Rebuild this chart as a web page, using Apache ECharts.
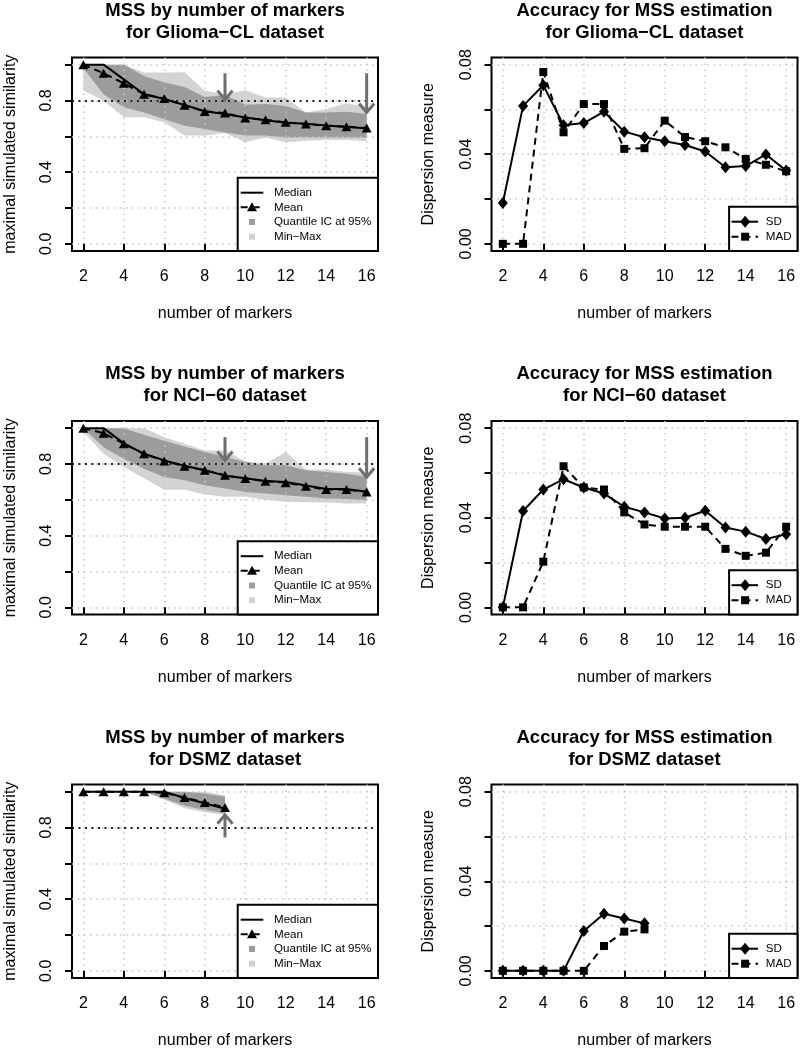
<!DOCTYPE html>
<html>
<head>
<meta charset="utf-8">
<script src="https://cdn.jsdelivr.net/npm/echarts@6/dist/echarts.min.js"></script>
<style>
html,body{margin:0;padding:0;background:#fff;}
#c{width:800px;height:1051px;}
</style>
</head>
<body>
<div id="c"></div>
<script>
// ---------------- DATA ----------------
const markers = [2, 3, 4, 5, 6, 7, 8, 9, 10, 11, 12, 13, 14, 15, 16];
const markersDSMZ = [2, 3, 4, 5, 6, 7, 8, 9];

const xTicks = [2, 4, 6, 8, 10, 12, 14, 16];
const mssTicks = [0, 0.2, 0.4, 0.6, 0.8, 1.0];
const mssTickLabels = [0, 0.4, 0.8];
const dispTicks = [0, 0.02, 0.04, 0.06, 0.08];
const dispTickLabels = [0, 0.04, 0.08];
const refLine = 0.8;

// Glioma-CL
const gliomaMedian = [1.0, 1.0, 0.918, 0.835, 0.808, 0.775, 0.740, 0.725, 0.705, 0.690, 0.676, 0.670, 0.660, 0.652, 0.645];
const gliomaMean   = [1.0, 0.952, 0.896, 0.835, 0.811, 0.774, 0.739, 0.730, 0.702, 0.693, 0.678, 0.669, 0.659, 0.654, 0.646];
const gliomaQLow   = [0.98, 0.835, 0.763, 0.733, 0.696, 0.659, 0.641, 0.622, 0.604, 0.604, 0.594, 0.594, 0.594, 0.594, 0.594];
const gliomaQHigh  = [1.0, 1.0, 1.0, 0.937, 0.900, 0.876, 0.820, 0.831, 0.776, 0.780, 0.770, 0.733, 0.733, 0.737, 0.724];
const gliomaMin    = [0.854, 0.800, 0.707, 0.706, 0.678, 0.604, 0.604, 0.618, 0.567, 0.594, 0.567, 0.576, 0.580, 0.580, 0.572];
const gliomaMax    = [1.0, 1.0, 1.0, 0.956, 0.956, 0.958, 0.854, 0.835, 0.857, 0.817, 0.817, 0.733, 0.752, 0.785, 0.765];
const gliomaArrows = [[9, 0.952, 0.805], [16, 0.952, 0.733]];
const gliomaSD  = [0.0182, 0.0616, 0.0708, 0.0530, 0.0539, 0.0590, 0.0501, 0.0476, 0.0458, 0.0441, 0.0412, 0.0342, 0.0347, 0.0399, 0.0327];
const gliomaMAD = [0, 0, 0.0767, 0.0498, 0.0624, 0.0624, 0.0424, 0.0427, 0.0550, 0.0477, 0.0458, 0.0431, 0.0379, 0.0353, 0.0324];

// NCI-60
const nciMedian = [1.0, 1.0, 0.915, 0.857, 0.820, 0.790, 0.765, 0.735, 0.720, 0.705, 0.700, 0.680, 0.660, 0.660, 0.645];
const nciMean   = [1.0, 0.972, 0.913, 0.857, 0.817, 0.787, 0.765, 0.737, 0.719, 0.704, 0.696, 0.676, 0.657, 0.657, 0.644];
const nciQLow   = [1.0, 0.894, 0.830, 0.774, 0.728, 0.709, 0.681, 0.663, 0.644, 0.635, 0.626, 0.617, 0.607, 0.604, 0.598];
const nciQHigh  = [1.0, 1.0, 1.0, 0.963, 0.930, 0.898, 0.867, 0.839, 0.811, 0.793, 0.793, 0.765, 0.756, 0.746, 0.728];
const nciMin    = [0.98, 0.857, 0.783, 0.720, 0.656, 0.656, 0.630, 0.617, 0.617, 0.600, 0.590, 0.587, 0.585, 0.580, 0.580];
const nciMax    = [1.0, 1.0, 1.0, 1.0, 0.950, 0.913, 0.876, 0.876, 0.815, 0.802, 0.867, 0.769, 0.769, 0.756, 0.752];
const nciArrows = [[9, 0.950, 0.820], [16, 0.950, 0.726]];
const nciSD  = [0, 0.0430, 0.0526, 0.0572, 0.0535, 0.0508, 0.0449, 0.0424, 0.0397, 0.0400, 0.0431, 0.0356, 0.0338, 0.0305, 0.0326];
const nciMAD = [0, 0, 0.0204, 0.0630, 0.0535, 0.0526, 0.0424, 0.0370, 0.0360, 0.0360, 0.0360, 0.0261, 0.0230, 0.0244, 0.0360];

// DSMZ
const dsmzMedian = [1.0, 1.0, 1.0, 1.0, 1.0, 0.965, 0.935, 0.905];
const dsmzMean   = [1.0, 1.0, 1.0, 1.0, 0.994, 0.967, 0.940, 0.911];
const dsmzQLow   = [1.0, 1.0, 1.0, 1.0, 0.962, 0.922, 0.898, 0.880];
const dsmzQHigh  = [1.0, 1.0, 1.0, 1.0, 1.0, 1.0, 0.990, 0.972];
const dsmzMin    = [1.0, 1.0, 1.0, 1.0, 0.955, 0.907, 0.885, 0.870];
const dsmzMax    = [1.0, 1.0, 1.0, 1.0, 1.0, 1.0, 1.0, 0.980];
const dsmzArrows = [[9, 0.745, 0.871]];
const dsmzSD  = [0, 0, 0, 0, 0.0178, 0.0255, 0.0234, 0.0212];
const dsmzMAD = [0, 0, 0, 0, 0, 0.0111, 0.0175, 0.0185];

const mssTitles = [
  'MSS by number of markers\nfor Glioma\u2212CL dataset',
  'MSS by number of markers\nfor NCI\u221260 dataset',
  'MSS by number of markers\nfor DSMZ dataset'
];
const dispTitles = [
  'Accuracy for MSS estimation\nfor Glioma\u2212CL dataset',
  'Accuracy for MSS estimation\nfor NCI\u221260 dataset',
  'Accuracy for MSS estimation\nfor DSMZ dataset'
];
const mssLegendLabels = ['Median', 'Mean', 'Quantile IC at 95%', 'Min\u2212Max'];
const dispLegendLabels = ['SD', 'MAD'];
const xName = 'number of markers';
const mssYName = 'maximal simulated similarity';
const dispYName = 'Dispersion measure';

// ---------------- LAYOUT / STYLE ----------------
const FONT = '"Liberation Sans", Arial, Helvetica, sans-serif';
const ROW_TOP = [57.5, 421, 784.5];
const COL_LEFT = [72, 491.5];
const GW = 306, GH = 193.5;
const DARK = '#9c9c9c', LIGHT = '#d3d3d3', ARROW = '#6e6e6e';
const GRIDLINE = { color: '#c6c6c6', type: [1.5, 4.5], width: 1.5 };

const mssPanels = [
  { xs: markers, median: gliomaMedian, mean: gliomaMean, qLo: gliomaQLow, qHi: gliomaQHigh, mn: gliomaMin, mx: gliomaMax, arrows: gliomaArrows },
  { xs: markers, median: nciMedian, mean: nciMean, qLo: nciQLow, qHi: nciQHigh, mn: nciMin, mx: nciMax, arrows: nciArrows },
  { xs: markersDSMZ, median: dsmzMedian, mean: dsmzMean, qLo: dsmzQLow, qHi: dsmzQHigh, mn: dsmzMin, mx: dsmzMax, arrows: dsmzArrows }
];
const dispPanels = [
  { xs: markers, sd: gliomaSD, mad: gliomaMAD },
  { xs: markers, sd: nciSD, mad: nciMAD },
  { xs: markersDSMZ, sd: dsmzSD, mad: dsmzMAD }
];

function zip(xs, ys) { return xs.map((x, i) => [x, ys[i]]); }

function bandRenderer(xs, lo, hi, color) {
  return function (params, api) {
    const pts = [];
    for (let i = 0; i < xs.length; i++) pts.push(api.coord([xs[i], hi[i]]));
    for (let i = xs.length - 1; i >= 0; i--) pts.push(api.coord([xs[i], lo[i]]));
    return { type: 'polygon', shape: { points: pts }, style: { fill: color } };
  };
}

function arrowRenderer(params, api) {
  const p0 = api.coord([api.value(0), api.value(1)]);
  const p1 = api.coord([api.value(0), api.value(2)]);
  const dir = p1[1] > p0[1] ? 1 : -1;
  const hl = 9, hw = 7.5;
  return {
    type: 'group',
    children: [
      { type: 'line', shape: { x1: p0[0], y1: p0[1], x2: p1[0], y2: p1[1] }, style: { stroke: ARROW, lineWidth: 3 } },
      { type: 'polyline', shape: { points: [[p1[0] - hw, p1[1] - dir * hl], [p1[0], p1[1]], [p1[0] + hw, p1[1] - dir * hl]] },
        style: { stroke: ARROW, lineWidth: 3, fill: null } }
    ]
  };
}

const grids = [], xAxes = [], yAxes = [], series = [], graphics = [];
const axisText = { fontSize: 16, color: '#000', fontFamily: FONT };

for (let r = 0; r < 3; r++) {
  for (let c = 0; c < 2; c++) {
    const g = r * 2 + c;
    const isMss = c === 0;
    grids.push({ left: COL_LEFT[c], top: ROW_TOP[r], width: GW, height: GH, show: true,
      borderColor: '#000', borderWidth: 2, backgroundColor: 'transparent' });
    xAxes.push({
      gridIndex: g, type: 'value', min: 1.44, max: 16.56, z: 3,
      axisLine: { show: false },
      axisTick: { show: true, customValues: xTicks, length: 7, lineStyle: { color: '#000', width: 2 } },
      axisLabel: { customValues: xTicks, margin: 18, ...axisText },
      splitLine: { show: true, lineStyle: GRIDLINE },
      name: xName, nameLocation: 'middle', nameGap: 55, nameTextStyle: axisText
    });
    yAxes.push({
      gridIndex: g, type: 'value', z: 3,
      min: isMss ? -0.04 : -0.0032, max: isMss ? 1.04 : 0.0832,
      axisLine: { show: false },
      axisTick: { show: true, customValues: isMss ? mssTicks : dispTicks, length: 7, lineStyle: { color: '#000', width: 2 } },
      axisLabel: { customValues: isMss ? mssTickLabels : dispTickLabels, rotate: 90, margin: 17,
        formatter: v => isMss ? Number(v).toFixed(1) : Number(v).toFixed(2), ...axisText },
      splitLine: { show: true, lineStyle: GRIDLINE },
      name: isMss ? mssYName : dispYName, nameLocation: 'middle', nameGap: isMss ? 53.5 : 55,
      nameTextStyle: axisText
    });

    const cx = COL_LEFT[c] + GW / 2;
    graphics.push({ type: 'text', z: 100, x: cx, y: ROW_TOP[r] - 58,
      style: { text: isMss ? mssTitles[r] : dispTitles[r], textAlign: 'center', textVerticalAlign: 'top',
        font: 'bold 18.5px ' + FONT, lineHeight: 22, fill: '#000' } });

    if (isMss) {
      const p = mssPanels[r];
      series.push({ type: 'custom', xAxisIndex: g, yAxisIndex: g, z: 1, silent: true, animation: false,
        data: [[p.xs[0], p.mx[0]]], renderItem: bandRenderer(p.xs, p.mn, p.mx, LIGHT) });
      series.push({ type: 'custom', xAxisIndex: g, yAxisIndex: g, z: 1, silent: true, animation: false,
        data: [[p.xs[0], p.qHi[0]]], renderItem: bandRenderer(p.xs, p.qLo, p.qHi, DARK) });
      series.push({ type: 'line', xAxisIndex: g, yAxisIndex: g, z: 5, silent: true, animation: false,
        data: zip(p.xs, p.median), symbol: 'none', lineStyle: { color: '#000', width: 2 },
        markLine: { silent: true, symbol: 'none', label: { show: false }, animation: false,
          lineStyle: { color: '#222', type: [2, 4.5], width: 2 }, data: [{ yAxis: refLine }] } });
      series.push({ type: 'line', xAxisIndex: g, yAxisIndex: g, z: 6, silent: true, animation: false,
        data: zip(p.xs, p.mean), symbol: 'triangle', symbolSize: [10, 9], showAllSymbol: true,
        itemStyle: { color: '#000' }, lineStyle: { color: '#000', width: 2, type: [7, 5] } });
      series.push({ type: 'custom', xAxisIndex: g, yAxisIndex: g, z: 7, silent: true, animation: false,
        data: p.arrows, renderItem: arrowRenderer });

      // legend
      const lx = COL_LEFT[c] + 165.7, ly = ROW_TOP[r] + 120.2, lw = GW - 165.7, lh = GH - 120.2;
      graphics.push({ type: 'rect', z: 100, shape: { x: lx, y: ly, width: lw, height: lh },
        style: { fill: '#fff', stroke: '#000', lineWidth: 2 } });
      const rows = [15, 29.6, 44.3, 59];
      graphics.push({ type: 'line', z: 101, shape: { x1: lx + 3, y1: ly + rows[0], x2: lx + 25.6, y2: ly + rows[0] },
        style: { stroke: '#000', lineWidth: 2 } });
      graphics.push({ type: 'line', z: 101, shape: { x1: lx + 3, y1: ly + rows[1], x2: lx + 25.6, y2: ly + rows[1] },
        style: { stroke: '#000', lineWidth: 2, lineDash: [7, 5] } });
      const tx = lx + 14.3, ty = ly + rows[1];
      graphics.push({ type: 'polygon', z: 102, shape: { points: [[tx, ty - 5], [tx - 5, ty + 4], [tx + 5, ty + 4]] },
        style: { fill: '#000' } });
      graphics.push({ type: 'rect', z: 101, shape: { x: tx - 3, y: ly + rows[2] - 3, width: 6, height: 6 }, style: { fill: DARK } });
      graphics.push({ type: 'rect', z: 101, shape: { x: tx - 3, y: ly + rows[3] - 3, width: 6, height: 6 }, style: { fill: LIGHT } });
      mssLegendLabels.forEach((t, i) => {
        graphics.push({ type: 'text', z: 101, x: lx + 36.3, y: ly + rows[i],
          style: { text: t, textVerticalAlign: 'middle', textAlign: 'left', font: '11.6px ' + FONT, fill: '#000' } });
      });
    } else {
      const p = dispPanels[r];
      series.push({ type: 'line', xAxisIndex: g, yAxisIndex: g, z: 5, silent: true, animation: false,
        data: zip(p.xs, p.mad), symbol: 'rect', symbolSize: 8, showAllSymbol: true,
        itemStyle: { color: '#000' }, lineStyle: { color: '#000', width: 2, type: [7, 5] } });
      series.push({ type: 'line', xAxisIndex: g, yAxisIndex: g, z: 6, silent: true, animation: false,
        data: zip(p.xs, p.sd), symbol: 'diamond', symbolSize: [10, 12], showAllSymbol: true,
        itemStyle: { color: '#000' }, lineStyle: { color: '#000', width: 2 } });

      const lx = COL_LEFT[c] + 237.6, ly = ROW_TOP[r] + 149.2, lw = GW - 237.6, lh = GH - 149.2;
      graphics.push({ type: 'rect', z: 100, shape: { x: lx, y: ly, width: lw, height: lh },
        style: { fill: '#fff', stroke: '#000', lineWidth: 2 } });
      const rows = [15, 30];
      const mx = lx + 16;
      graphics.push({ type: 'line', z: 101, shape: { x1: lx + 2.4, y1: ly + rows[0], x2: lx + 29, y2: ly + rows[0] },
        style: { stroke: '#000', lineWidth: 2 } });
      graphics.push({ type: 'polygon', z: 102, shape: { points: [[mx, ly + rows[0] - 6], [mx + 5, ly + rows[0]], [mx, ly + rows[0] + 6], [mx - 5, ly + rows[0]]] },
        style: { fill: '#000' } });
      graphics.push({ type: 'line', z: 101, shape: { x1: lx + 2.4, y1: ly + rows[1], x2: lx + 29, y2: ly + rows[1] },
        style: { stroke: '#000', lineWidth: 2, lineDash: [7, 5] } });
      graphics.push({ type: 'rect', z: 102, shape: { x: mx - 4, y: ly + rows[1] - 4, width: 8, height: 8 }, style: { fill: '#000' } });
      dispLegendLabels.forEach((t, i) => {
        graphics.push({ type: 'text', z: 101, x: lx + 36.7, y: ly + rows[i],
          style: { text: t, textVerticalAlign: 'middle', textAlign: 'left', font: '11.6px ' + FONT, fill: '#000' } });
      });
    }
  }
}

const chart = echarts.init(document.getElementById('c'), null, { renderer: 'canvas', width: 800, height: 1051 });
chart.setOption({
  animation: false,
  backgroundColor: '#fff',
  textStyle: { fontFamily: FONT },
  grid: grids,
  xAxis: xAxes,
  yAxis: yAxes,
  series: series,
  graphic: { elements: graphics }
});
</script>
</body>
</html>
